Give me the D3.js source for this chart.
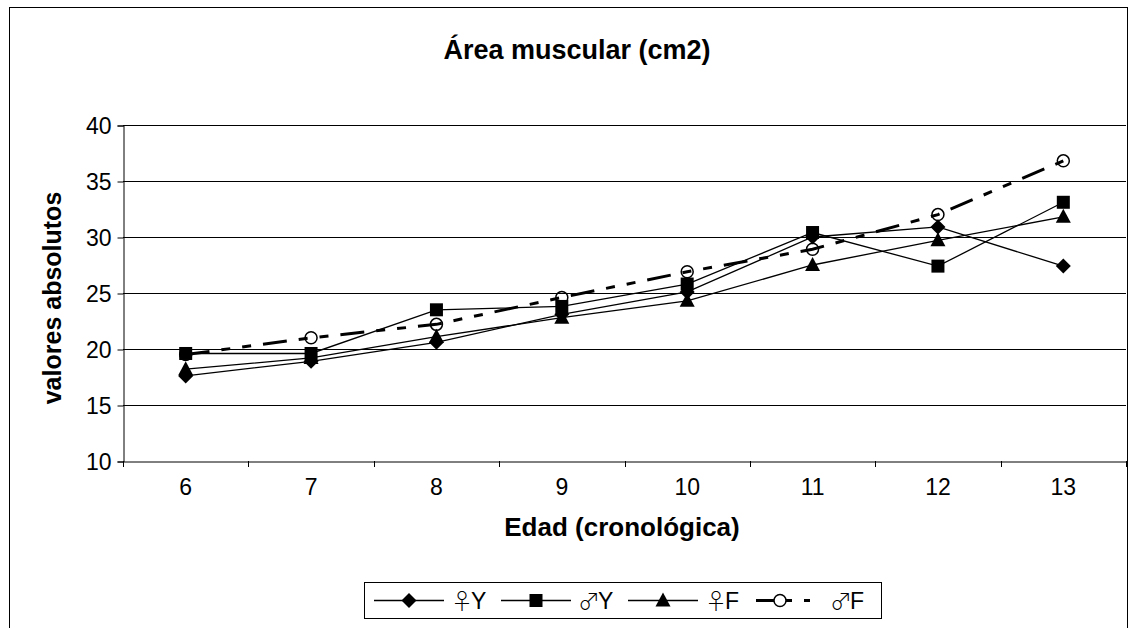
<!DOCTYPE html>
<html>
<head>
<meta charset="utf-8">
<script src="https://cdn.jsdelivr.net/npm/d3@7"></script>
<style>
  body { margin: 0; background: #fff; }
  text { font-family: "Liberation Sans", Arial, "DejaVu Sans", sans-serif; fill: #000; }
</style>
</head>
<body>
<div id="chart"></div>
<script>
// datos
var edades = ["6", "7", "8", "9", "10", "11", "12", "13"];
var yTicks = [10, 15, 20, 25, 30, 35, 40];
var fY = [17.6, 18.9, 20.6, 23.1, 25.1, 30.0, 30.9, 27.4];   // ♀Y
var mY = [19.6, 19.6, 23.5, 23.8, 25.8, 30.4, 27.4, 33.1];   // ♂Y
var fF = [18.2, 19.2, 21.1, 22.8, 24.3, 27.5, 29.7, 31.8];   // ♀F
var mF = [19.5, 21.0, 22.2, 24.6, 26.9, 28.9, 32.0, 36.8];   // ♂F
var simbolos = ["\u2640", "\u2642", "\u2640", "\u2642"];
var letras = ["Y", "Y", "F", "F"];

var series = [
  {values: fY, marker: "diamond", dash: null},
  {values: mY, marker: "square", dash: null},
  {values: fF, marker: "triangle", dash: null},
  {values: mF, marker: "circle", dash: "24,12,9,12,9,12"}
];

var svg = d3.select("#chart").append("svg")
  .attr("width", 1130)
  .attr("height", 628);

// borde del grafico
svg.append("rect")
  .attr("x", 9.5).attr("y", 7.5)
  .attr("width", 1118).attr("height", 640)
  .attr("fill", "none").attr("stroke", "#000").attr("stroke-width", 1);

var x = d3.scaleBand()
  .domain(edades)
  .range([123, 1126])
  .padding(0);

var y = d3.scaleLinear()
  .domain([10, 40])
  .range([461, 125]);

// lineas de division
svg.append("g").selectAll("line").data(yTicks.slice(1)).enter()
  .append("line")
  .attr("x1", 123).attr("x2", 1126)
  .attr("y1", function(d) { return Math.round(y(d)) + 0.5; })
  .attr("y2", function(d) { return Math.round(y(d)) + 0.5; })
  .style("stroke", "#000")
  .style("stroke-width", 1);

// eje y
var yAxis = svg.append("g")
  .attr("transform", "translate(123.5,0.5)")
  .call(d3.axisLeft(y).tickValues(yTicks).tickSize(6).tickPadding(6));
yAxis.select(".domain").attr("stroke", "#000");
yAxis.selectAll("text").style("font-size", "23px").attr("dy", "0.36em");

// eje x
var xAxis = svg.append("g")
  .attr("transform", "translate(0,461.5)")
  .call(d3.axisBottom(x).tickSize(0).tickPadding(17));
xAxis.select(".domain").attr("stroke", "#000");
xAxis.selectAll("text").style("font-size", "23px");

svg.append("g").selectAll("line")
  .data(edades.concat(["fin"])).enter()
  .append("line")
  .attr("x1", function(d, i) { return Math.round(i < edades.length ? x(d) : x.range()[1]) + 0.5; })
  .attr("x2", function(d, i) { return Math.round(i < edades.length ? x(d) : x.range()[1]) + 0.5; })
  .attr("y1", 461).attr("y2", 467)
  .style("stroke", "#000");

// titulos
svg.append("text")
  .attr("x", 577).attr("y", 59)
  .attr("text-anchor", "middle")
  .style("font-size", "27px").style("font-weight", "bold")
  .text("Área muscular (cm2)");

svg.append("text")
  .attr("transform", "translate(61,298) rotate(-90)")
  .attr("text-anchor", "middle")
  .style("font-size", "25px").style("font-weight", "bold")
  .text("valores absolutos");

svg.append("text")
  .attr("x", 622).attr("y", 536)
  .attr("text-anchor", "middle")
  .style("font-size", "26px").style("font-weight", "bold")
  .text("Edad (cronológica)");

// marcadores
function drawMarker(sel, type) {
  if (type === "diamond") {
    sel.append("path").attr("d", "M0,-7.5L7.5,0L0,7.5L-7.5,0Z").attr("fill", "#000");
  } else if (type === "square") {
    sel.append("rect").attr("x", -6.5).attr("y", -6.5).attr("width", 13).attr("height", 13).attr("fill", "#000");
  } else if (type === "triangle") {
    sel.append("path").attr("d", "M0,-8L7.5,6L-7.5,6Z").attr("fill", "#000");
  } else {
    sel.append("circle").attr("r", 6).attr("fill", "none").attr("stroke", "#000").attr("stroke-width", 1.5);
  }
}

var line = d3.line()
  .x(function(d, i) { return x(edades[i]) + x.bandwidth() / 2; })
  .y(function(d) { return y(d); });

series.forEach(function(s) {
  var g = svg.append("g");
  g.append("path")
    .datum(s.values)
    .attr("d", line)
    .attr("fill", "none")
    .attr("stroke", "#000")
    .attr("stroke-width", s.dash ? 3 : 1.3)
    .attr("stroke-dasharray", s.dash);
  g.selectAll("g.m").data(s.values).enter()
    .append("g")
    .attr("class", "m")
    .attr("transform", function(d, i) {
      return "translate(" + (x(edades[i]) + x.bandwidth() / 2) + "," + y(d) + ")";
    })
    .each(function() { drawMarker(d3.select(this), s.marker); });
});

// leyenda
var legend = svg.append("g");
legend.append("rect")
  .attr("x", 364.5).attr("y", 582.5)
  .attr("width", 517).attr("height", 36)
  .attr("fill", "#fff").attr("stroke", "#000");

var lx = [374, 501, 628, 756];
series.forEach(function(s, i) {
  var g = legend.append("g").attr("transform", "translate(" + lx[i] + ",600.5)");
  if (s.dash) {
    g.append("line").attr("x1", 0).attr("x2", 60).attr("y1", 0).attr("y2", 0)
      .attr("stroke", "#000").attr("stroke-width", 3).attr("stroke-dasharray", "18,12,6,12,6");
    g.append("g").attr("transform", "translate(24,0)").call(drawMarker, s.marker);
  } else {
    g.append("line").attr("x1", 0).attr("x2", 70).attr("y1", 0).attr("y2", 0)
      .attr("stroke", "#000").attr("stroke-width", 1.3);
    g.append("g").attr("transform", "translate(35,0)").call(drawMarker, s.marker);
  }
  var t = g.append("text")
    .attr("x", s.dash ? 78 : 81).attr("y", 8)
    .style("font-size", "23px");
  t.append("tspan")
    .style("font-family", "'Noto Sans CJK JP', 'DejaVu Sans', sans-serif")
    .style("font-weight", "300")
    .style("font-size", "22px")
    .attr("dx", -4)
    .text(simbolos[i]);
  t.append("tspan").attr("dx", -2).text(letras[i]);
});
</script>
</body>
</html>
